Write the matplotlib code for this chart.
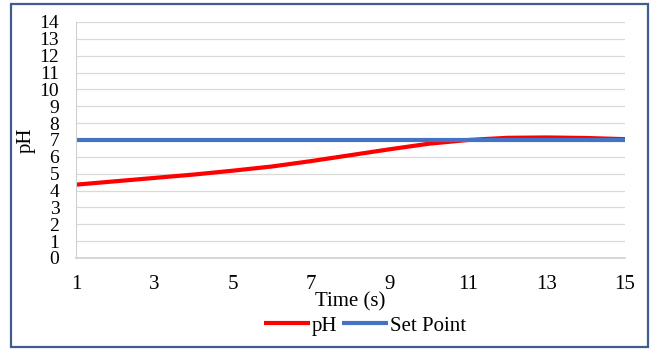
import matplotlib
matplotlib.use('Agg')
import matplotlib.pyplot as plt
from matplotlib.patches import Rectangle

time_s = [1, 2, 3, 4, 5, 6, 7, 8, 9, 10, 11, 12, 13, 14, 15]
ph = [4.35, 4.55, 4.75, 4.95, 5.18, 5.43, 5.75, 6.1, 6.45, 6.78, 7.0, 7.13, 7.15, 7.12, 7.05]
set_point = [7] * len(time_s)
xticks = [1, 3, 5, 7, 9, 11, 13, 15]
yticks = list(range(0, 15))

plt.rcParams['font.family'] = ['Liberation Serif', 'DejaVu Serif']

fig = plt.figure(figsize=(6.52, 3.51), dpi=100)
ax = fig.add_axes([76/652, 1 - 258/351, (625 - 76)/652, (258 - 22)/351])

ax.plot(time_s, ph, color='#ff0000', lw=3.0, label='pH', solid_capstyle='butt')
ax.plot(time_s, set_point, color='#4472c4', lw=3.0, label='Set Point', solid_capstyle='butt')

ax.set_xlim(1, 15)
ax.set_ylim(0, 14)
ax.set_xticks(xticks)
ax.set_yticks(yticks)
ax.tick_params(axis='x', length=0, labelsize=15, pad=12)
ax.tick_params(axis='y', length=0, labelsize=14, pad=12)
ax.grid(axis='y', color='#d9d9d9', lw=0.9)
ax.set_axisbelow(True)
for s in ['top', 'right']:
    ax.spines[s].set_visible(False)
ax.spines['left'].set_color('#d0d0d0')
ax.spines['bottom'].set_color('#d0d0d0')
ax.spines['bottom'].set_linewidth(1.2)

ax.set_ylabel('pH', fontsize=15, labelpad=3)
ax.set_xlabel('Time (s)', fontsize=15, labelpad=-1)

fig.legend(loc='center', bbox_to_anchor=(365/652, 1 - 326/351), ncol=2, frameon=False,
           fontsize=15, handlelength=2.2, handletextpad=0.1, columnspacing=0.2,
           borderpad=0)

fig.patches.append(Rectangle((11/652, 4/351), (648 - 11)/652, (347 - 4)/351,
                             transform=fig.transFigure, fill=False,
                             edgecolor='#3f5e8f', lw=1.6))

fig.savefig('out.png', dpi=100)
